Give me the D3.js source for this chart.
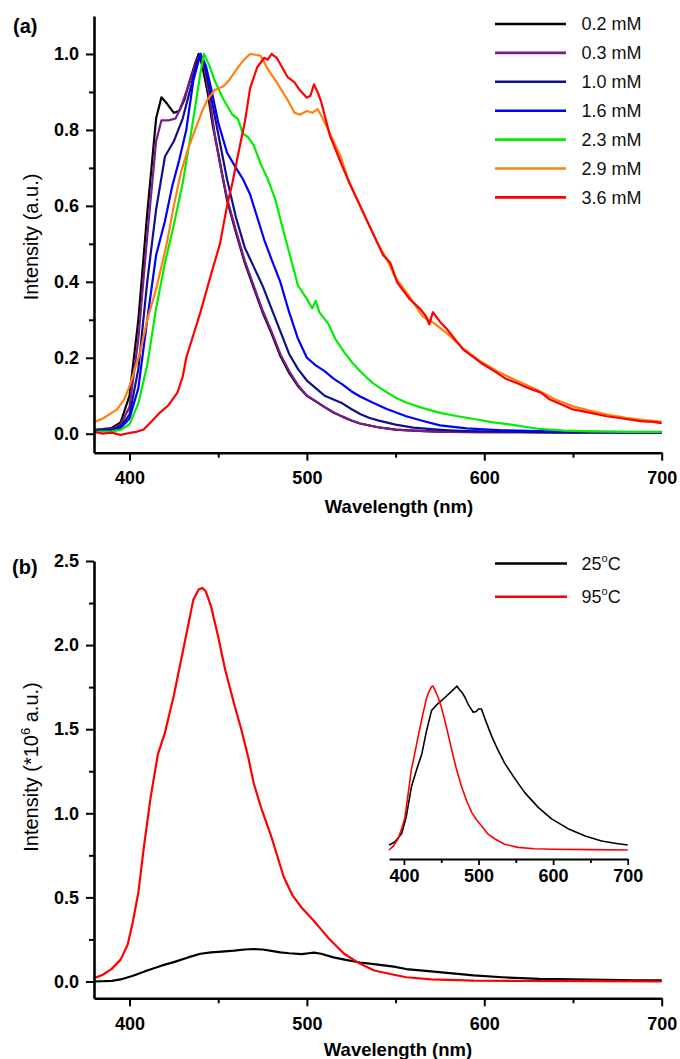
<!DOCTYPE html>
<html>
<head>
<meta charset="utf-8">
<script src="https://cdn.jsdelivr.net/npm/d3@7"></script>
<style>
  html, body { margin: 0; padding: 0; background: #fff; }
  svg { display: block; }
</style>
</head>
<body>
<svg id="chart" width="680" height="1059"></svg>
<script>
// ---------------- DATA ----------------
// Panel (a): normalized emission spectra at several concentrations
const seriesNamesA = ["0.2 mM", "0.3 mM", "1.0 mM", "1.6 mM", "2.3 mM", "2.9 mM", "3.6 mM"];
const seriesColorsA = ["#000000", "#7d1a8c", "#10108a", "#0000ff", "#00ee00", "#ff8010", "#ff0000"];

const wl02 = [380,385,390,395,400,405,410,415,418,421,425,428,431,434,437,439,441,444,447,450,455,460,465,470,475,480,485,490,495,500,505,510,515,520,525,530,540,550,560,570,580,600,620,650,700];
const int02 = [0.010,0.012,0.015,0.03,0.10,0.30,0.58,0.83,0.886,0.87,0.845,0.85,0.88,0.93,0.975,1.0,0.97,0.90,0.81,0.74,0.615,0.53,0.45,0.385,0.32,0.265,0.205,0.16,0.125,0.10,0.085,0.07,0.056,0.045,0.035,0.027,0.017,0.011,0.008,0.006,0.005,0.004,0.004,0.003,0.003];

const wl03 = [380,385,390,395,400,405,410,415,418,422,426,429,432,435,438,440,442,445,448,451,455,460,465,470,475,480,485,490,495,500,505,510,515,520,525,530,540,550,560,570,580,600,620,650,700];
const int03 = [0.008,0.010,0.012,0.025,0.07,0.25,0.52,0.77,0.825,0.825,0.83,0.86,0.90,0.94,0.985,1.0,0.97,0.89,0.79,0.71,0.62,0.535,0.455,0.39,0.325,0.27,0.21,0.165,0.128,0.10,0.085,0.07,0.056,0.045,0.035,0.027,0.017,0.011,0.008,0.006,0.005,0.004,0.004,0.003,0.003];

const wl10 = [380,385,390,395,400,405,410,415,420,425,430,435,438,440,442,445,450,455,460,465,470,475,480,485,490,495,500,505,510,515,520,525,530,535,540,550,560,570,580,590,600,620,650,700];
const int10 = [0.008,0.009,0.010,0.02,0.05,0.17,0.40,0.59,0.73,0.77,0.83,0.92,0.98,1.0,0.98,0.91,0.79,0.67,0.57,0.49,0.44,0.39,0.33,0.27,0.21,0.17,0.14,0.12,0.10,0.09,0.08,0.065,0.052,0.042,0.035,0.024,0.016,0.012,0.009,0.007,0.006,0.005,0.004,0.004];

const wl16 = [380,385,390,395,400,405,410,415,420,424,428,432,436,440,443,446,450,455,460,464,468,472,476,480,485,490,495,500,505,510,515,520,525,530,537,545,556,565,575,590,610,630,660,700];
const int16 = [0.006,0.007,0.009,0.015,0.04,0.12,0.30,0.47,0.56,0.65,0.72,0.80,0.93,1.0,0.97,0.91,0.82,0.74,0.70,0.67,0.63,0.57,0.51,0.46,0.40,0.32,0.25,0.20,0.18,0.165,0.145,0.13,0.112,0.098,0.082,0.065,0.046,0.034,0.022,0.014,0.009,0.007,0.005,0.004];

const wl23 = [380,390,395,400,405,410,415,420,425,430,435,440,442,445,448,453,458,461,464,467,470,474,478,482,487,491,495,500,503,505,507,512,516,521,526,531,537,543,550,556,565,575,585,595,605,615,630,645,660,680,700];
const int23 = [0.005,0.006,0.01,0.025,0.08,0.18,0.33,0.45,0.55,0.66,0.80,0.95,1.0,0.97,0.93,0.88,0.84,0.83,0.79,0.78,0.76,0.71,0.67,0.62,0.53,0.46,0.39,0.355,0.33,0.35,0.32,0.29,0.25,0.215,0.185,0.16,0.134,0.115,0.095,0.082,0.068,0.055,0.046,0.038,0.030,0.024,0.013,0.008,0.006,0.005,0.005];

const wl29 = [380,385,390,393,397,400,403,406,410,415,421,425,429,433,437,441,444,448,453,456,459,462,465,468,471,474,478,483,489,493,496,500,503,506,509,513,519,524,530,535,540,545,550,558,565,572,580,588,598,607,618,630,640,650,660,670,680,690,700];
const int29 = [0.030,0.040,0.055,0.064,0.09,0.125,0.17,0.214,0.30,0.38,0.50,0.60,0.688,0.75,0.80,0.85,0.88,0.905,0.915,0.93,0.95,0.97,0.987,1.0,0.998,0.995,0.96,0.925,0.88,0.845,0.84,0.85,0.845,0.855,0.83,0.79,0.73,0.66,0.60,0.55,0.50,0.46,0.41,0.36,0.31,0.29,0.26,0.225,0.19,0.165,0.14,0.115,0.09,0.072,0.06,0.05,0.042,0.036,0.032];

const wl36 = [380,385,390,395,400,404,408,412,417,422,427,430,432,436,440,446,451,455,458,461,465,468,472,476,478,480,483,486,489,493,496,500,502,504,506,508,513,519,524,530,535,540,543,547,551,558,564,567,569,571,575,579,588,598,607,612,618,625,632,637,641,650,660,669,678,688,695,700];
const int36 = [0.005,0.0,0.003,-0.003,0.002,0.005,0.011,0.03,0.055,0.075,0.108,0.15,0.20,0.26,0.32,0.42,0.50,0.60,0.66,0.73,0.82,0.91,0.965,0.99,0.985,1.0,0.99,0.965,0.94,0.925,0.905,0.885,0.89,0.92,0.90,0.875,0.785,0.715,0.66,0.60,0.55,0.50,0.47,0.45,0.398,0.354,0.328,0.31,0.288,0.32,0.295,0.275,0.222,0.187,0.161,0.145,0.134,0.12,0.108,0.09,0.082,0.064,0.055,0.046,0.04,0.033,0.031,0.028];

// Panel (b): emission at 25 and 95 C (x 10^6 a.u.)
const seriesNamesB = ["25", "95"];
const seriesColorsB = ["#000000", "#ff0000"];

const wl25 = [380,390,395,402,410,418,425,433,440,446,452,459,465,470,475,480,485,490,497,501,504,508,515,522,530,540,549,556,570,585,594,610,631,650,669,685,700];
const int25 = [0.0,0.004,0.012,0.034,0.065,0.094,0.115,0.143,0.165,0.173,0.178,0.183,0.19,0.193,0.19,0.182,0.173,0.168,0.163,0.168,0.172,0.165,0.143,0.128,0.113,0.1,0.088,0.074,0.06,0.045,0.036,0.025,0.015,0.012,0.009,0.007,0.006];

const wl95 = [380,385,390,395,399,402,405,408,412,416,420,425,431,436,439,441,443,446,450,454,459,463,467,470,474,480,487,492,497,504,508,512,521,530,538,549,556,570,594,620,660,700];
const int95 = [0.02,0.04,0.075,0.13,0.22,0.36,0.53,0.79,1.10,1.35,1.48,1.70,2.01,2.27,2.33,2.34,2.32,2.23,2.05,1.85,1.65,1.50,1.33,1.18,1.04,0.86,0.62,0.51,0.44,0.36,0.31,0.26,0.165,0.105,0.065,0.04,0.025,0.013,0.005,0.003,0.002,0.0];

// Inset: normalized spectra
const wlI25 = [380,388,397,403,410,417,424,430,437,445,455,462,468,471,474,478,482,486,490,493,497,500,504,507,512,518,526,535,548,562,580,598,620,643,665,685,700];
const intI25 = [0.03,0.05,0.10,0.20,0.384,0.49,0.586,0.72,0.85,0.89,0.93,0.96,0.985,1.0,0.98,0.96,0.93,0.89,0.86,0.84,0.845,0.86,0.86,0.82,0.76,0.69,0.61,0.53,0.44,0.35,0.26,0.19,0.13,0.085,0.055,0.04,0.03];

const wlI95 = [380,385,392,397,401,405,410,415,419,425,430,433,437,439,442,446,450,457,464,470,477,484,491,498,504,512,522,535,553,575,600,650,700];
const intI95 = [0.0,0.02,0.067,0.13,0.19,0.32,0.49,0.60,0.69,0.82,0.92,0.96,0.995,1.0,0.97,0.93,0.874,0.75,0.612,0.50,0.39,0.30,0.228,0.18,0.148,0.10,0.067,0.035,0.016,0.008,0.005,0.002,0.0];

// Tick values
const xMajorTicks = [400, 500, 600, 700];
const xMinorTicks = [450, 550, 650];
const yMajorTicksA = [0.0, 0.2, 0.4, 0.6, 0.8, 1.0];
const yMinorTicksA = [0.1, 0.3, 0.5, 0.7, 0.9];
const yMajorTicksB = [0.0, 0.5, 1.0, 1.5, 2.0, 2.5];
const yMinorTicksB = [0.25, 0.75, 1.25, 1.75, 2.25];

// ---------------- DRAWING ----------------
const FONT = "'Liberation Sans', Arial, Helvetica, sans-serif";
const svg = d3.select("#chart");
svg.append("rect").attr("width", 680).attr("height", 1059).attr("fill", "#fff");

const pair = (xs, ys) => xs.map((w, i) => [w, ys[i]]);

function styleAxis(g, width) {
  g.select(".domain").attr("stroke", "#000").attr("stroke-width", width);
  g.selectAll(".tick line").attr("stroke", "#000").attr("stroke-width", 2);
  g.selectAll(".tick text").attr("fill", "#000").attr("font-family", FONT)
    .attr("font-weight", "bold").attr("font-size", 18);
}

function drawAxes(g, x, y, yMaj, yMin, fmt) {
  const y0 = y.range()[0];
  const x0 = x.range()[0];
  // minor ticks
  g.append("g").attr("transform", `translate(0,${y0})`)
    .call(d3.axisBottom(x).tickValues(xMinorTicks).tickSize(5).tickFormat(""))
    .call(a => { a.select(".domain").remove(); a.selectAll(".tick line").attr("stroke", "#000").attr("stroke-width", 2); });
  g.append("g").attr("transform", `translate(${x0},0)`)
    .call(d3.axisLeft(y).tickValues(yMin).tickSize(5).tickFormat(""))
    .call(a => { a.select(".domain").remove(); a.selectAll(".tick line").attr("stroke", "#000").attr("stroke-width", 2); });
  // major axes
  g.append("g").attr("transform", `translate(0,${y0})`)
    .call(d3.axisBottom(x).tickValues(xMajorTicks).tickSize(8).tickPadding(10.5).tickSizeOuter(0).tickFormat(d3.format("d")))
    .call(a => styleAxis(a, 2.6));
  g.append("g").attr("transform", `translate(${x0},0)`)
    .call(d3.axisLeft(y).tickValues(yMaj).tickSize(8).tickPadding(7).tickSizeOuter(0).tickFormat(fmt))
    .call(a => styleAxis(a, 2.6));
}

// ---- Panel (a)
const xA = d3.scaleLinear().domain([380, 700]).range([94, 661.7]);
const yA = d3.scaleLinear().domain([-0.05, 1.1]).range([452.7, 16]);
const gA = svg.append("g");

const dataA = [pair(wl02, int02), pair(wl03, int03), pair(wl10, int10), pair(wl16, int16),
               pair(wl23, int23), pair(wl29, int29), pair(wl36, int36)];
const lineA = d3.line().x(d => xA(d[0])).y(d => yA(d[1]));
dataA.forEach((d, i) => {
  gA.append("path").datum(d).attr("d", lineA).attr("fill", "none")
    .attr("stroke", seriesColorsA[i]).attr("stroke-width", 2.2).attr("stroke-linejoin", "round");
});
drawAxes(gA, xA, yA, yMajorTicksA, yMinorTicksA, d3.format(".1f"));

gA.append("text").attr("x", 13).attr("y", 33).text("(a)")
  .attr("font-family", FONT).attr("font-weight", "bold").attr("font-size", 20);
gA.append("text").attr("x", 399).attr("y", 513).attr("text-anchor", "middle")
  .attr("font-family", FONT).attr("font-weight", "bold").attr("font-size", 18.5)
  .text("Wavelength (nm)");
gA.append("text").attr("transform", "translate(38,237) rotate(-90)").attr("text-anchor", "middle")
  .attr("font-family", FONT).attr("font-size", 20).text("Intensity (a.u.)");

// legend (a)
const legA = gA.append("g");
seriesNamesA.forEach((name, i) => {
  const ly = 24 + i * 28.9;
  legA.append("line").attr("x1", 495).attr("x2", 566).attr("y1", ly).attr("y2", ly)
    .attr("stroke", seriesColorsA[i]).attr("stroke-width", 2.6);
  legA.append("text").attr("x", 581.5).attr("y", ly + 6.4).text(name)
    .attr("font-family", FONT).attr("font-size", 18).attr("fill", "#111");
});

// ---- Panel (b)
const xB = d3.scaleLinear().domain([380, 700]).range([94, 661.7]);
const yB = d3.scaleLinear().domain([-0.1, 2.5]).range([998.3, 561]);
const gB = svg.append("g");
const dataB = [pair(wl25, int25), pair(wl95, int95)];
const lineB = d3.line().x(d => xB(d[0])).y(d => yB(d[1]));
dataB.forEach((d, i) => {
  gB.append("path").datum(d).attr("d", lineB).attr("fill", "none")
    .attr("stroke", seriesColorsB[i]).attr("stroke-width", 2.2).attr("stroke-linejoin", "round");
});
drawAxes(gB, xB, yB, yMajorTicksB, yMinorTicksB, d3.format(".1f"));

gB.append("text").attr("x", 12).attr("y", 574).text("(b)")
  .attr("font-family", FONT).attr("font-weight", "bold").attr("font-size", 20);
gB.append("text").attr("x", 398).attr("y", 1056).attr("text-anchor", "middle")
  .attr("font-family", FONT).attr("font-weight", "bold").attr("font-size", 18.5)
  .text("Wavelength (nm)");
const yLabB = gB.append("text").attr("transform", "translate(38,767) rotate(-90)").attr("text-anchor", "middle")
  .attr("font-family", FONT).attr("font-size", 20);
yLabB.append("tspan").text("Intensity (*10");
yLabB.append("tspan").attr("dy", -8).attr("font-size", 13).text("6");
yLabB.append("tspan").attr("dy", 8).text(" a.u.)");

// legend (b)
const legB = gB.append("g");
seriesNamesB.forEach((name, i) => {
  const ly = 563.5 + i * 33.3;
  legB.append("line").attr("x1", 495).attr("x2", 567).attr("y1", ly).attr("y2", ly)
    .attr("stroke", seriesColorsB[i]).attr("stroke-width", 2.6);
  const t = legB.append("text").attr("x", 581.5).attr("y", ly + 6.4)
    .attr("font-family", FONT).attr("font-size", 18).attr("fill", "#111");
  t.append("tspan").text(name);
  t.append("tspan").attr("dy", -8).attr("font-size", 11).text("o");
  t.append("tspan").attr("dy", 8).text("C");
});

// ---- Inset
const xI = d3.scaleLinear().domain([380, 700]).range([389, 627.7]);
const yI = d3.scaleLinear().domain([0, 1]).range([850, 686]);
const gI = svg.append("g");
const dataI = [pair(wlI25, intI25), pair(wlI95, intI95)];
const lineI = d3.line().x(d => xI(d[0])).y(d => yI(d[1]));
dataI.forEach((d, i) => {
  gI.append("path").datum(d).attr("d", lineI).attr("fill", "none")
    .attr("stroke", seriesColorsB[i]).attr("stroke-width", 1.6).attr("stroke-linejoin", "round");
});
gI.append("g").attr("transform", "translate(0,859)")
  .call(d3.axisBottom(xI).tickValues(xMinorTicks).tickSize(4).tickFormat(""))
  .call(a => { a.select(".domain").remove(); a.selectAll(".tick line").attr("stroke", "#000").attr("stroke-width", 1.8); });
gI.append("g").attr("transform", "translate(0,859)")
  .call(d3.axisBottom(xI).tickValues(xMajorTicks).tickSize(6).tickPadding(4.5).tickSizeOuter(0).tickFormat(d3.format("d")))
  .call(a => { styleAxis(a, 2); a.selectAll(".tick line").attr("stroke-width", 1.8); });
</script>
</body>
</html>
